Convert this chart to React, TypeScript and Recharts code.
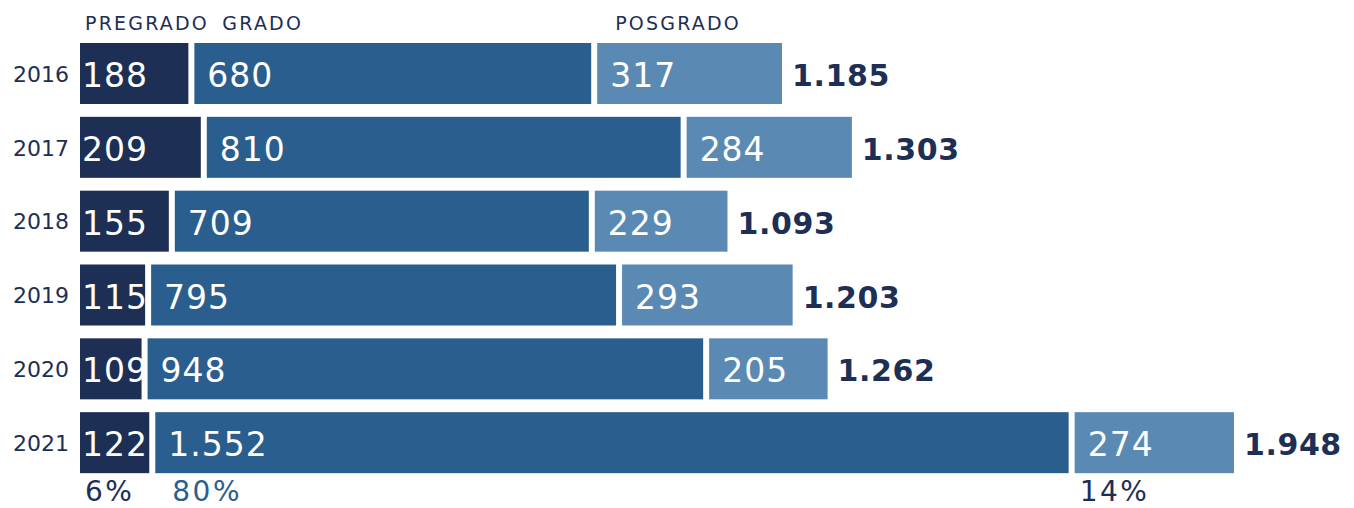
import { BarChart, Bar, XAxis, YAxis, LabelList } from 'recharts';

const years = ['2016', '2017', '2018', '2019', '2020', '2021'];
const pregrado = [188, 209, 155, 115, 109, 122];
const grado = [680, 810, 709, 795, 948, 1552];
const posgrado = [317, 284, 229, 293, 205, 274];
const totals = [1185, 1303, 1093, 1203, 1262, 1948];
const seriesNames = ['PREGRADO', 'GRADO', 'POSGRADO'];
const shares = ['6%', '80%', '14%'];

const DARK = '#1d2f55';
const MID = '#2a5e8e';
const LIGHT = '#5a8ab3';

const data = years.map((year, i) => ({
  year,
  pregrado: pregrado[i],
  grado: grado[i],
  posgrado: posgrado[i],
  total: totals[i],
}));

// thousands with a dot, also for 4 digits
const fmt = (v: number) => String(v).replace(/\B(?=(\d{3})+(?!\d))/g, '.');

const segment = (left: number, right: number) => (p: any) => (
  <rect
    x={p.x + left}
    y={p.y}
    width={Math.max(0, p.width - left - right)}
    height={p.height}
    fill={p.fill}
  />
);

// value inside the bar, plus header above first row and share below last row
const inner = (k: number, dx: number, headDx: number, shareDx: number, shareColor: string) => (p: any) => {
  const { x, y, height, value, index } = p;
  return (
    <g>
      <text x={x + dx} y={y + height / 2} dy={2} dominantBaseline="central" fill="#fff" fontSize={33} letterSpacing={1}>
        {fmt(Number(value))}
      </text>
      {index === 0 && (
        <text x={x + headDx} y={y - 13} fill={DARK} fontSize={19} letterSpacing={2.2}>
          {seriesNames[k]}
        </text>
      )}
      {index === years.length - 1 && (
        <text x={x + shareDx} y={y + height + 28} fill={shareColor} fontSize={28} letterSpacing={2.5}>
          {shares[k]}
        </text>
      )}
    </g>
  );
};

const totalLabel = (p: any) => {
  const { x, y, width, height, value } = p;
  return (
    <text x={x + width + 10} y={y + height / 2} dy={2} dominantBaseline="central" fill={DARK} fontSize={30} fontWeight="bold" letterSpacing={0.6}>
      {fmt(Number(value))}
    </text>
  );
};

export default function App() {
  return (
    <div style={{ position: 'absolute', left: 0, top: 0, background: '#fff', fontFamily: 'DejaVu Sans' }}>
      <BarChart
        width={1354}
        height={508}
        data={data}
        layout="vertical"
        barSize={61}
        margin={{ top: 37, right: 30, left: 0, bottom: 28 }}
      >
        <XAxis type="number" hide domain={[0, 2100]} />
        <YAxis
          type="category"
          dataKey="year"
          width={80}
          axisLine={false}
          tickLine={false}
          tickMargin={5}
          tick={{ fill: DARK, fontSize: 22 }}
        />
        <Bar dataKey="pregrado" stackId="a" fill={DARK} shape={segment(0, 3)} isAnimationActive={false}>
          <LabelList dataKey="pregrado" content={inner(0, 2, 5, 5, DARK)} />
        </Bar>
        <Bar dataKey="grado" stackId="a" fill={MID} shape={segment(3, 3)} isAnimationActive={false}>
          <LabelList dataKey="grado" content={inner(1, 16, 31, 20, MID)} />
        </Bar>
        <Bar dataKey="posgrado" stackId="a" fill={LIGHT} shape={segment(3, 0)} isAnimationActive={false}>
          <LabelList dataKey="posgrado" content={inner(2, 16, 21, 8, DARK)} />
          <LabelList dataKey="total" content={totalLabel} />
        </Bar>
      </BarChart>
    </div>
  );
}
